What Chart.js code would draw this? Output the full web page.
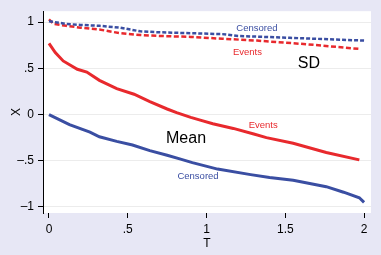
<!DOCTYPE html>
<html>
<head>
<meta charset="utf-8">
<script src="https://cdn.jsdelivr.net/npm/chart.js@4"></script>
<style>
  body { margin: 0; background: #e7e7f5; }
  canvas { display: block; }
</style>
</head>
<body>
<canvas id="chart" width="381" height="255"></canvas>
<script>
// Data

// Mean, events (red solid)
const tMeanEvents = [0, 0.04, 0.09, 0.18, 0.24, 0.32, 0.43, 0.54, 0.64, 0.75, 0.81, 0.9, 0.96, 1.04, 1.17, 1.3, 1.38, 1.55, 1.76, 1.97];
const meanEvents = [0.77, 0.67, 0.58, 0.49, 0.46, 0.37, 0.28, 0.22, 0.14, 0.06, 0.02, -0.03, -0.06, -0.10, -0.15, -0.21, -0.25, -0.31, -0.41, -0.49];

// Mean, censored (blue solid)
const tMeanCens = [0, 0.13, 0.26, 0.32, 0.43, 0.53, 0.64, 0.75, 0.83, 0.91, 1.07, 1.28, 1.4, 1.55, 1.76, 1.87, 1.97, 2.0];
const meanCens = [0.0, -0.11, -0.19, -0.24, -0.29, -0.33, -0.39, -0.44, -0.48, -0.52, -0.59, -0.65, -0.68, -0.71, -0.78, -0.84, -0.90, -0.95];

// SD, events (red dashed)
const tSdEvents = [0, 0.03, 0.11, 0.2, 0.32, 0.45, 0.58, 0.7, 0.9, 1.1, 1.32, 1.64, 1.97];
const sdEvents = [1.03, 0.98, 0.96, 0.94, 0.92, 0.88, 0.86, 0.85, 0.84, 0.82, 0.80, 0.76, 0.71];

// SD, censored (blue dashed)
const tSdCens = [0, 0.11, 0.2, 0.32, 0.45, 0.58, 0.7, 0.9, 1.1, 1.2, 1.53, 2.0];
const sdCens = [1.01, 0.98, 0.97, 0.96, 0.94, 0.90, 0.89, 0.88, 0.87, 0.85, 0.83, 0.80];

// Tick values
const xTicks = [0, 0.5, 1, 1.5, 2];
const yTicks = [-1, -0.5, 0, 0.5, 1];

// Text labels in the plot
const labelText = ['Censored', 'Events', 'SD', 'Events', 'Mean', 'Censored'];
const labelT = [1.32, 1.26, 1.65, 1.36, 0.87, 0.946];
const labelX = [0.935, 0.677, 0.55, -0.118, -0.26, -0.667];
const labelKind = ['blue', 'red', 'big', 'red', 'big', 'blue'];

const RED = '#e8292d';
const BLUE = '#3a4ea2';
const FONT = '"Liberation Sans", Arial, sans-serif';

function pts(ts, vs) {
  return ts.map((t, i) => ({ x: t, y: vs[i] }));
}

// Format ticks like Stata: .5, -.5
function fmt(v) {
  if (v === 0) return '0';
  let s = String(Math.abs(v)).replace(/^0\./, '.');
  return (v < 0 ? '\u2013' : '') + s;
}

// Background: lavender outside, white plot region
const bgPlugin = {
  id: 'bg',
  beforeDraw(chart) {
    const { ctx, chartArea } = chart;
    ctx.save();
    ctx.fillStyle = '#e7e7f5';
    ctx.fillRect(0, 0, chart.width, chart.height);
    ctx.fillStyle = '#ffffff';
    ctx.fillRect(chartArea.left, chartArea.top, chartArea.right - chartArea.left, chartArea.bottom - chartArea.top);
    ctx.restore();
  },
};

// Text annotations
const labelPlugin = {
  id: 'labels',
  afterDatasetsDraw(chart) {
    const { ctx } = chart;
    const xs = chart.scales.x;
    const ys = chart.scales.y;
    ctx.save();
    ctx.textAlign = 'center';
    ctx.textBaseline = 'middle';
    labelText.forEach((txt, i) => {
      const kind = labelKind[i];
      if (kind === 'big') {
        ctx.font = '16px ' + FONT;
        ctx.fillStyle = '#000';
      } else {
        ctx.font = '9.5px ' + FONT;
        ctx.fillStyle = kind === 'red' ? RED : BLUE;
      }
      ctx.fillText(txt, xs.getPixelForValue(labelT[i]), ys.getPixelForValue(labelX[i]));
    });
    ctx.restore();
  },
};

const ctx = document.getElementById('chart');

new Chart(ctx, {
  type: 'line',
  data: {
    datasets: [
      {
        label: 'SD censored',
        data: pts(tSdCens, sdCens),
        borderColor: BLUE,
        borderWidth: 2.5,
        borderDash: [4, 2],
      },
      {
        label: 'SD events',
        data: pts(tSdEvents, sdEvents),
        borderColor: RED,
        borderWidth: 2.5,
        borderDash: [5, 2.5],
      },
      {
        label: 'Mean events',
        data: pts(tMeanEvents, meanEvents),
        borderColor: RED,
        borderWidth: 3,
      },
      {
        label: 'Mean censored',
        data: pts(tMeanCens, meanCens),
        borderColor: BLUE,
        borderWidth: 3,
      },
    ],
  },
  options: {
    responsive: false,
    animation: false,
    events: [],
    elements: {
      point: { radius: 0 },
      line: { tension: 0, fill: false },
    },
    layout: { padding: { left: 0, top: 10, right: 10, bottom: 0 } },
    plugins: {
      legend: { display: false },
      tooltip: { enabled: false },
    },
    scales: {
      x: {
        type: 'linear',
        min: -0.038,
        max: 2.044,
        afterBuildTicks: (scale) => {
          scale.ticks = xTicks.map((v) => ({ value: v }));
        },
        afterFit: (scale) => {
          scale.height = 42;
        },
        border: { display: false },
        grid: {
          drawOnChartArea: false,
          drawTicks: true,
          tickLength: 5,
          tickColor: '#000',
        },
        ticks: {
          padding: 4,
          color: '#000',
          font: { family: FONT, size: 12 },
          maxRotation: 0,
          callback: (v) => fmt(v),
        },
        title: {
          display: true,
          text: 'T',
          color: '#000',
          font: { family: FONT, size: 12 },
          padding: { top: 0, bottom: 4 },
        },
      },
      y: {
        type: 'linear',
        min: -1.065,
        max: 1.118,
        afterBuildTicks: (scale) => {
          scale.ticks = yTicks.map((v) => ({ value: v }));
        },
        afterFit: (scale) => {
          scale.width = 43;
        },
        border: { display: true, color: '#000', width: 1 },
        grid: {
          color: '#ececec',
          lineWidth: 1,
          drawTicks: true,
          tickLength: 5,
          tickColor: '#000',
        },
        ticks: {
          padding: 4,
          color: '#000',
          font: { family: FONT, size: 12 },
          callback: (v) => fmt(v),
        },
        title: {
          display: true,
          text: 'X',
          color: '#000',
          font: { family: FONT, size: 12 },
          padding: { top: 9, bottom: 0 },
        },
      },
    },
  },
  plugins: [bgPlugin, labelPlugin],
});
</script>
</body>
</html>
